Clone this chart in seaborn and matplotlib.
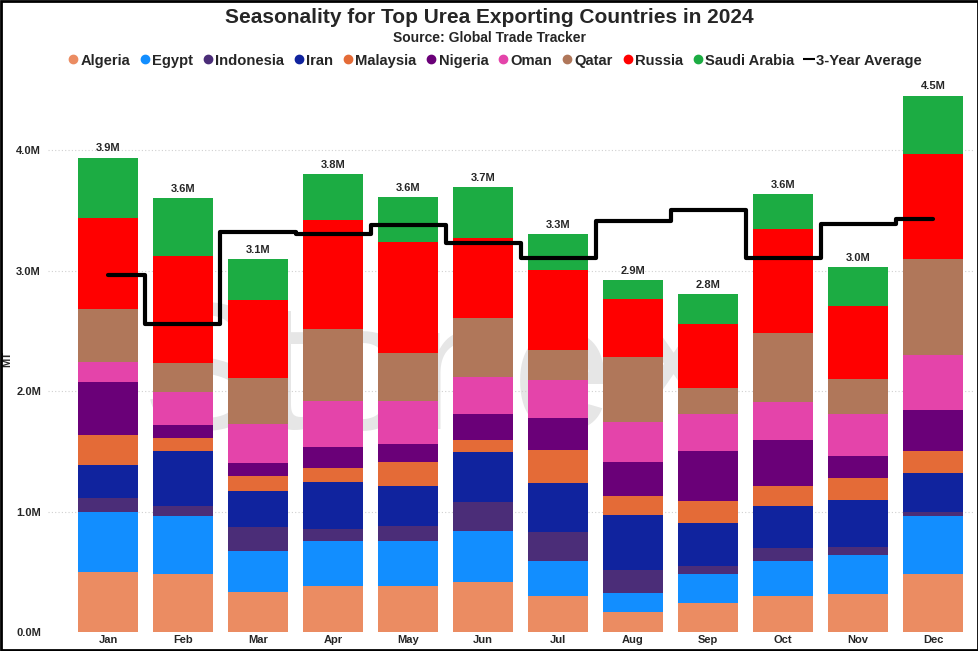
import numpy as np
import pandas as pd
import matplotlib
matplotlib.use("Agg")
import matplotlib.pyplot as plt
from matplotlib.lines import Line2D
import seaborn as sns

months = ["Jan", "Feb", "Mar", "Apr", "May", "Jun", "Jul", "Aug", "Sep", "Oct", "Nov", "Dec"]
countries = ["Algeria", "Egypt", "Indonesia", "Iran", "Malaysia", "Nigeria",
             "Oman", "Qatar", "Russia", "Saudi Arabia"]

# values in million tonnes
algeria   = [0.50, 0.48, 0.33, 0.38, 0.38, 0.42, 0.30, 0.165, 0.24, 0.30, 0.32, 0.48]
egypt     = [0.50, 0.48, 0.34, 0.375, 0.375, 0.42, 0.29, 0.16, 0.245, 0.29, 0.32, 0.485]
indonesia = [0.115, 0.09, 0.20, 0.10, 0.125, 0.24, 0.24, 0.19, 0.065, 0.11, 0.07, 0.035]
iran      = [0.27, 0.45, 0.30, 0.39, 0.335, 0.415, 0.41, 0.46, 0.355, 0.35, 0.385, 0.325]
malaysia  = [0.25, 0.11, 0.13, 0.115, 0.195, 0.10, 0.27, 0.155, 0.18, 0.165, 0.185, 0.18]
nigeria   = [0.44, 0.11, 0.10, 0.18, 0.155, 0.22, 0.27, 0.28, 0.42, 0.38, 0.185, 0.34]
oman      = [0.17, 0.27, 0.33, 0.375, 0.355, 0.30, 0.31, 0.335, 0.305, 0.315, 0.35, 0.455]
qatar     = [0.435, 0.245, 0.38, 0.60, 0.40, 0.49, 0.255, 0.535, 0.215, 0.575, 0.29, 0.80]
russia    = [0.76, 0.89, 0.65, 0.91, 0.92, 0.67, 0.665, 0.485, 0.535, 0.865, 0.605, 0.87]
saudi     = [0.50, 0.48, 0.335, 0.375, 0.37, 0.42, 0.295, 0.16, 0.245, 0.29, 0.32, 0.485]
avg_3yr   = [2.965, 2.557, 3.321, 3.306, 3.381, 3.23, 3.103, 3.417, 3.508, 3.11, 3.39, 3.426]

colors = ["#EB8C62", "#128EFF", "#4B2D78", "#10239E", "#E46B37", "#6A0078",
          "#E444AA", "#B0775A", "#FF0000", "#1CAC43"]

series = [algeria, egypt, indonesia, iran, malaysia, nigeria, oman, qatar, russia, saudi]
df = pd.DataFrame({c: s for c, s in zip(countries, series)}, index=months)
df.index.name = "Month"

sns.set_theme(style="white")
plt.rcParams["font.family"] = ["Liberation Sans", "DejaVu Sans"]

fig = plt.figure(figsize=(9.79, 6.51), dpi=100)
ax = fig.add_axes([0.049, 0.029, 0.947, 0.84])

# watermark
ax.text(4.4, 2.08, "StoneX", fontsize=130, color="#e6e6e6", ha="center", va="center",
        zorder=0, family="Liberation Sans")

# gridlines
for yv in [1, 2, 3, 4]:
    ax.axhline(yv, color="#d0d0d0", lw=0.8, ls=(0, (1, 2)), zorder=0.5)

# stacked bars drawn as cumulative layers (top layer first)
cum = df.cumsum(axis=1)
for country, col in reversed(list(zip(countries, colors))):
    sns.barplot(x=cum.index, y=cum[country].values, color=col, width=0.79,
                saturation=1, ax=ax, zorder=2, linewidth=0)

totals = df.sum(axis=1).values
for i, t in enumerate(totals):
    ax.annotate(f"{t:.1f}M", (i, t), xytext=(0, 3), textcoords="offset points",
                ha="center", va="bottom", fontsize=8, fontweight="bold", zorder=5)

sns.lineplot(x=np.arange(len(months)), y=avg_3yr, drawstyle="steps-mid", color="black",
             linewidth=3, ax=ax, zorder=4)

ax.set_xlim(-0.8, 11.56)
ax.set_ylim(0, 4.54)
ax.set_yticks([0, 1, 2, 3, 4])
ax.set_yticklabels([f"{v:.1f}M" for v in [0, 1, 2, 3, 4]])
ax.set_xticks(range(len(months)))
ax.set_xticklabels(months)
ax.tick_params(axis="both", length=0, labelsize=8)
ax.tick_params(axis="x", pad=2)
ax.tick_params(axis="y", pad=5)
for lab in ax.get_xticklabels() + ax.get_yticklabels():
    lab.set_fontweight("bold")
ax.set_xlabel("")
ax.set_ylabel("MT", fontsize=8, fontweight="bold", labelpad=3)
for sp in ax.spines.values():
    sp.set_visible(False)

fig.text(0.5, 0.973, "Seasonality for Top Urea Exporting Countries in 2024",
         ha="center", va="center", fontsize=15, fontweight="bold")
fig.text(0.5, 0.941, "Source: Global Trade Tracker",
         ha="center", va="center", fontsize=10, fontweight="bold")

handles = [Line2D([], [], marker="o", linestyle="", color=c, markersize=6) for c in colors]
handles.append(Line2D([], [], marker="_", linestyle="", color="black", markersize=8,
                      markeredgewidth=1.5))
labels = countries + ["3-Year Average"]
leg = fig.legend(handles, labels, loc="center", bbox_to_anchor=(0.506, 0.907), ncol=11,
                 frameon=False, fontsize=10.6, handlelength=0.6, handletextpad=0.2,
                 columnspacing=0.7, borderaxespad=0)
for t in leg.get_texts():
    t.set_fontweight("bold")

# figure border
fig.add_artist(plt.Rectangle((0.001, 0.001), 0.998, 0.998, transform=fig.transFigure,
                             fill=False, edgecolor="black", linewidth=2))

fig.savefig("out.png", dpi=100)
